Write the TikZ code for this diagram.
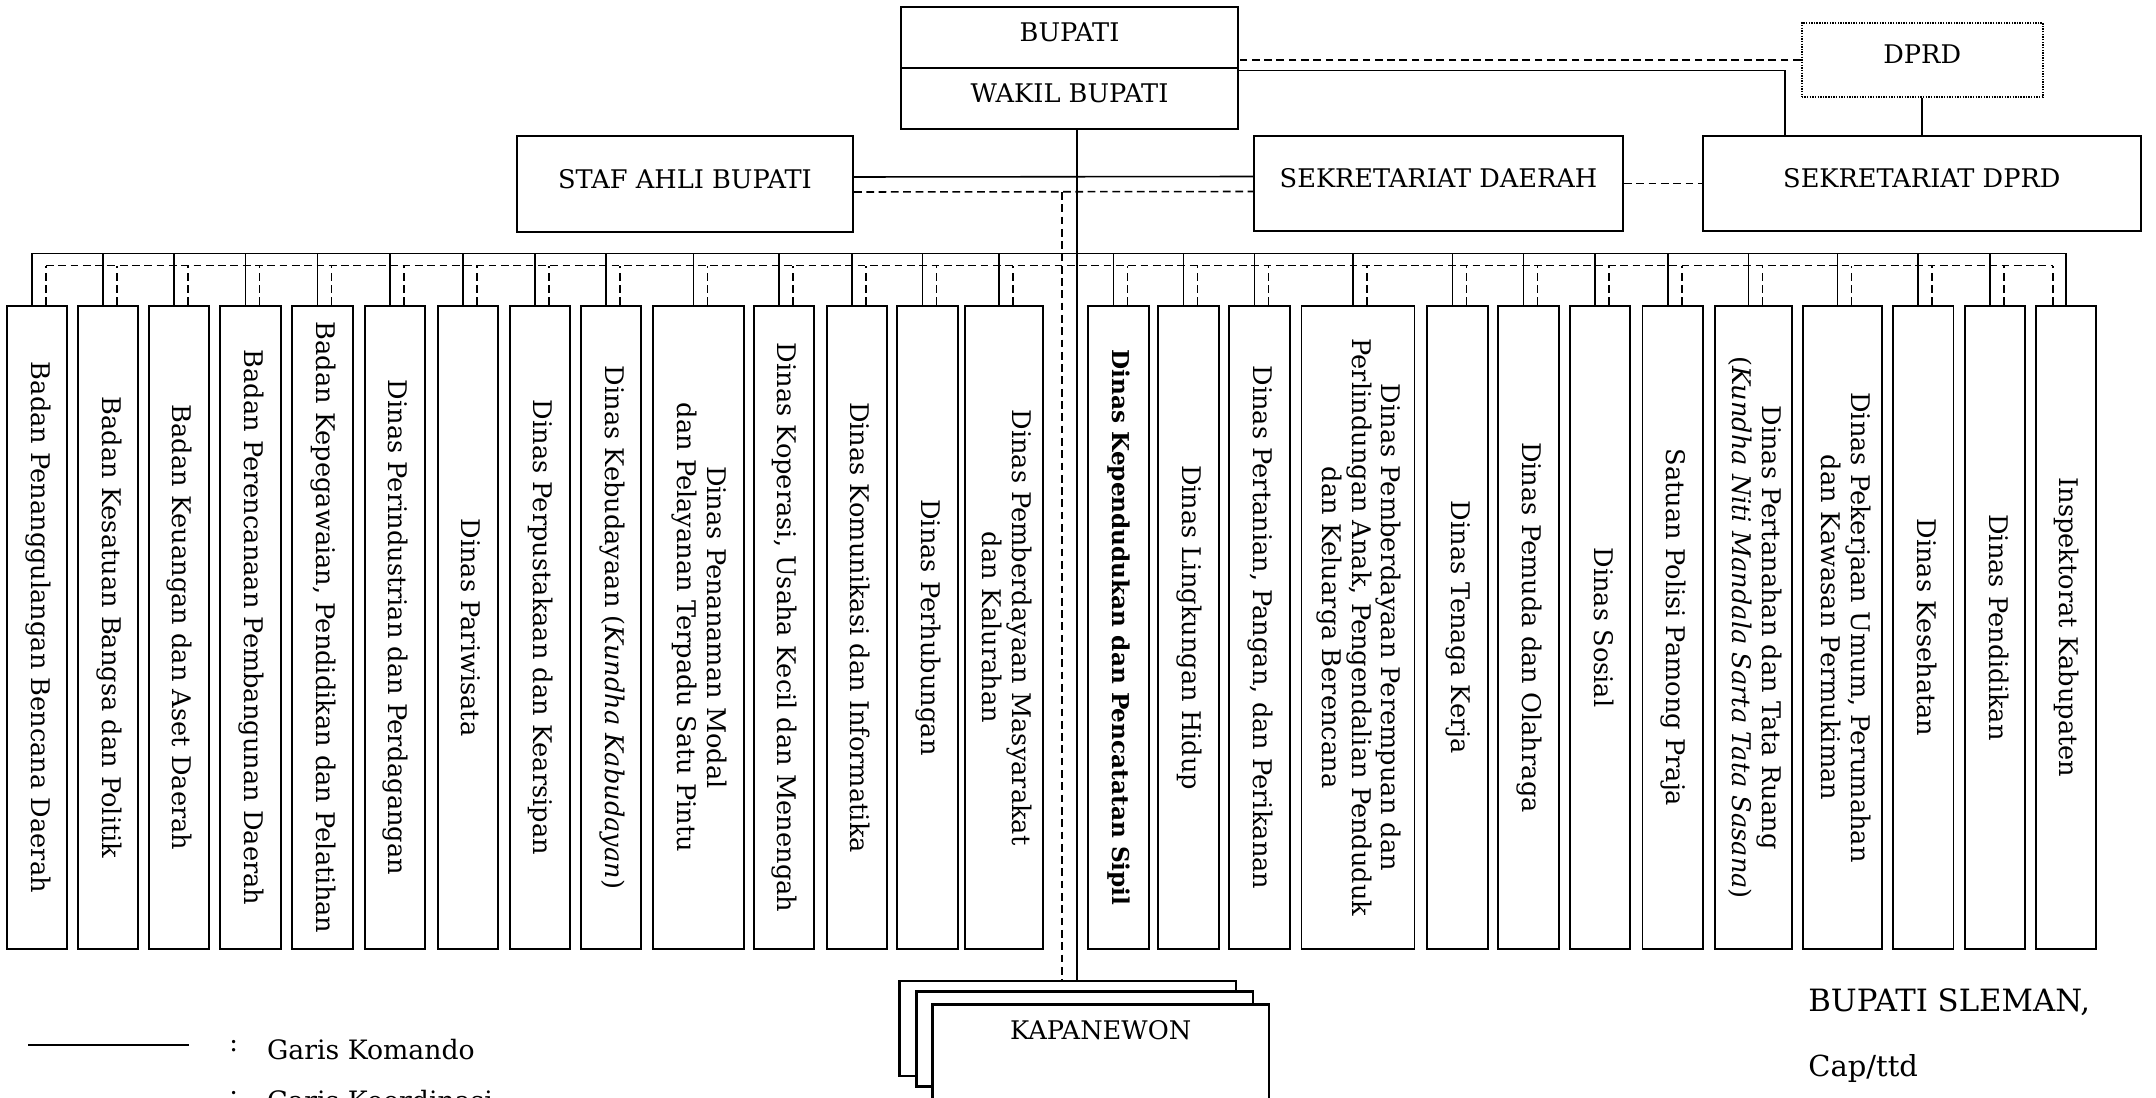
\documentclass[tikz,border=0pt]{standalone}
\usepackage{fontspec}
\setmainfont{DejaVu Serif}
\usepackage{graphicx}
\usepackage{tikz}
\usetikzlibrary{calc}
\newcommand{\vlab}[1]{\rotatebox{-90}{\begin{tabular}{@{}c@{}}#1\end{tabular}}}
\tikzset{
  komando/.style={draw=black, line width=0.9pt},
  koordinasi/.style={draw=black, line width=0.9pt, dash pattern=on 4.4pt off 2.6pt},
  topbox/.style={draw=black, line width=1.2pt, inner sep=0pt, text depth=0.22cm},
  opd/.style={draw=black, line width=1.1pt, inner sep=0pt, minimum width=1.21cm, minimum height=12.86cm},
  kapbox/.style={draw=black, line width=1.4pt, fill=white, minimum width=6.73cm, minimum height=1.9cm},
  lab/.style={inner sep=0pt, anchor=base west},
}

\begin{document}
\begin{tikzpicture}[x=0.02cm, y=-0.02cm, every node/.style={font=\fontsize{14.6}{17}\selectfont}]
  \useasboundingbox (0,0) rectangle (2156,1098);
  \clip (0,0) rectangle (2156,1098);

  \node[topbox, minimum width=6.74cm, minimum height=1.22cm] (bupati) at (1069.5,37.5) {BUPATI};
  \node[topbox, minimum width=6.74cm, minimum height=1.22cm] (wakil) at (1069.5,98.5) {WAKIL BUPATI};
  \node[topbox, dash pattern=on 0.8pt off 0.7pt, minimum width=4.82cm, minimum height=1.49cm] (dprd) at (1922.2,60) {DPRD};
  \node[topbox, minimum width=6.72cm, minimum height=1.92cm] (staf) at (685,184) {STAF AHLI BUPATI};
  \node[topbox, minimum width=7.38cm, minimum height=1.9cm] (sekda) at (1438.5,183.5) {SEKRETARIAT DAERAH};
  \node[topbox, minimum width=8.77cm, minimum height=1.9cm] (sekdprd) at (1921.8,183.5) {SEKRETARIAT DPRD};

  \node[opd] (b1) at (37,627.5) {\vlab{Badan Penanggulangan Bencana Daerah}};
  \node[opd] (b2) at (108,627.5) {\vlab{Badan Kesatuan Bangsa dan Politik}};
  \node[opd] (b3) at (178.8,627.5) {\vlab{Badan Keuangan dan Aset Daerah}};
  \node[opd] (b4) at (250.5,627.5) {\vlab{Badan Perencanaan Pembangunan Daerah}};
  \node[opd] (b5) at (322.3,627.5) {\vlab{Badan Kepegawaian, Pendidikan dan Pelatihan}};
  \node[opd] (b6) at (394.9,627.5) {\vlab{Dinas Perindustrian dan Perdagangan}};
  \node[opd] (b7) at (467.8,627.5) {\vlab{Dinas Pariwisata}};
  \node[opd] (b8) at (539.8,627.5) {\vlab{Dinas Perpustakaan dan Kearsipan}};
  \node[opd] (b9) at (611,627.5) {\vlab{Dinas Kebudayaan (\textit{Kundha Kabudayan})}};
  \node[opd, minimum width=1.81cm] (b10) at (698.3,627.5) {\vlab{Dinas Penanaman Modal\\dan Pelayanan Terpadu Satu Pintu}};
  \node[opd] (b11) at (783.9,627.5) {\vlab{Dinas Koperasi, Usaha Kecil dan Menengah}};
  \node[opd] (b12) at (856.9,627.5) {\vlab{Dinas Komunikasi dan Informatika}};
  \node[opd] (b13) at (927.3,627.5) {\vlab{Dinas Perhubungan}};
  \node[opd, minimum width=1.55cm] (b14) at (1003.8,627.5) {\vlab{Dinas Pemberdayaan Masyarakat\\dan Kalurahan}};
  \node[opd] (b15) at (1118.3,627.5) {\vlab{\fontsize{13.2}{16}\selectfont\textbf{Dinas Kependudukan dan Pencatatan Sipil}}};
  \node[opd] (b16) at (1188.4,627.5) {\vlab{Dinas Lingkungan Hidup}};
  \node[opd] (b17) at (1259.5,627.5) {\vlab{Dinas Pertanian, Pangan, dan Perikanan}};
  \node[opd, minimum width=2.26cm] (b18) at (1358,627.5) {\vlab{Dinas Pemberdayaan Perempuan dan\\Perlindungan Anak, Pengendalian Penduduk\\dan Keluarga Berencana}};
  \node[opd] (b19) at (1457.4,627.5) {\vlab{Dinas Tenaga Kerja}};
  \node[opd] (b20) at (1528.3,627.5) {\vlab{Dinas Pemuda dan Olahraga}};
  \node[opd] (b21) at (1600.1,627.5) {\vlab{Dinas Sosial}};
  \node[opd] (b22) at (1672.7,627.5) {\vlab{Satuan Polisi Pamong Praja}};
  \node[opd, minimum width=1.54cm] (b23) at (1753.5,627.5) {\vlab{Dinas Pertanahan dan Tata Ruang\\(\textit{Kundha Niti Mandala Sarta Tata Sasana})}};
  \node[opd, minimum width=1.58cm] (b24) at (1842.5,627.5) {\vlab{Dinas Pekerjaan Umum, Perumahan\\dan Kawasan Permukiman}};
  \node[opd] (b25) at (1923.2,627.5) {\vlab{Dinas Kesehatan}};
  \node[opd] (b26) at (1995,627.5) {\vlab{Dinas Pendidikan}};
  \node[opd] (b27) at (2065.8,627.5) {\vlab{Inspektorat Kabupaten}};

  \node[kapbox] (kapA) at (1067.7,1028.3) {};
  \node[kapbox] (kapB) at (1084.7,1039.2) {};
  \node[kapbox, text depth=0.87cm] (kapC) at (1100.7,1051.8) {KAPANEWON};

  \coordinate (busS) at (0,253.3);
  \coordinate (busD) at (0,265.7);
  \foreach \i in {1,...,26}{
    \draw[komando] ($(b\i.north)+(-5,0)$) coordinate (s\i) -- (s\i |- busS);
    \draw[koordinasi] ($(b\i.north)+(9,0)$) coordinate (d\i) -- (d\i |- busD);
  }
  \draw[komando] (b27.north) coordinate (s27) -- (s27 |- busS);
  \draw[koordinasi] ($(b27.north)+(-13,0)$) coordinate (d27) -- (d27 |- busD);
  \draw[komando] (s1 |- busS) -- (s27 |- busS);
  \draw[koordinasi] (d1 |- busD) -- (d27 |- busD);

  \coordinate (axis) at ($(wakil.south)+(7.5,0)$);
  \draw[komando] (axis) -- (axis |- kapA.north);
  \draw[komando] ($(staf.east)+(0,-7)$) -- ($(sekda.west)+(0,-7)$);
  \draw[koordinasi] ($(staf.east)+(0,8)$) coordinate (sd) -- ($(sekda.west)+(0,8)$);
  \coordinate (dsplit) at ($(sd -| axis)+(-15,0)$);
  \draw[koordinasi] (dsplit) -- (dsplit |- kapA.north);
  \draw[koordinasi] (sekda) -- (sekdprd);
  \draw[koordinasi] (dprd.west) -- (dprd.west -| bupati.east);
  \draw[komando] ($(wakil.north east)+(0,3.7)$) -| ($(sekdprd.north west)+(83.5,0)$);
  \draw[komando] (dprd.south) -- (dprd.south |- sekdprd.north);

  \coordinate (legS) at (28,1045);
  \draw[komando] (legS) -- ++(161,0);
  \node[lab] (colon1) at (229,1051.5) {:};
  \node[lab, font=\fontsize{15.2}{18}\selectfont] (garis1) at (266.7,1059) {Garis Komando};
  \node[lab] (colon2) at (229,1102.5) {:};
  \node[lab, font=\fontsize{15.2}{18}\selectfont] (garis2) at (266.7,1110) {Garis Koordinasi};
  \node[lab, font=\fontsize{17.5}{20}\selectfont] (ttd1) at (1808,1011) {BUPATI SLEMAN,};
  \node[lab, font=\fontsize{16.5}{20}\selectfont] (ttd2) at (1808,1076) {Cap/ttd};
\end{tikzpicture}
\end{document}
